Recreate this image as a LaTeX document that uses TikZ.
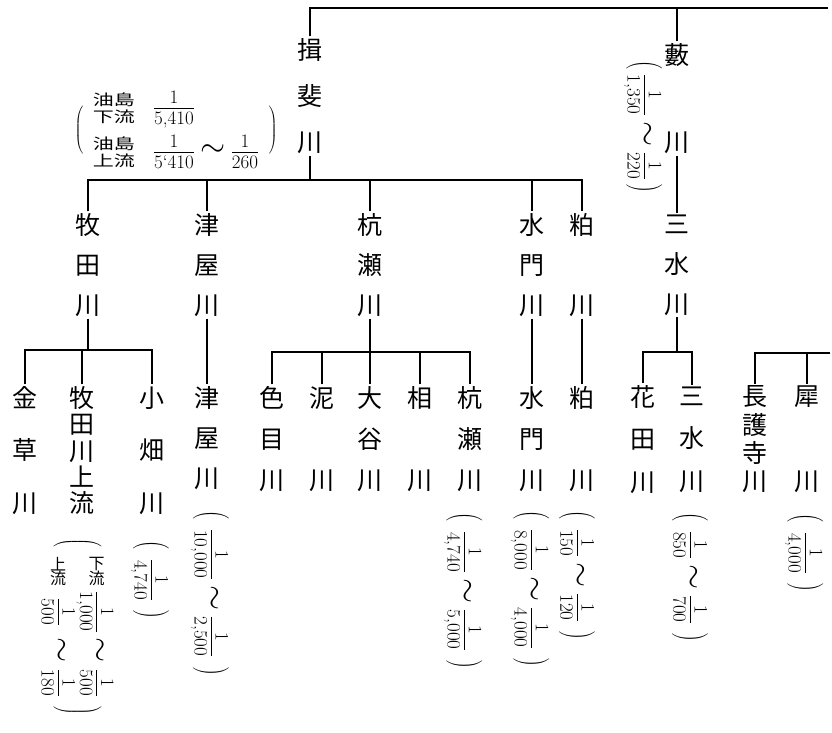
\RequirePackage{fix-cm}
\documentclass[tikz,border=0pt]{standalone}
\usepackage{fontspec}
\usepackage{graphicx}
\newfontfamily\cjk{Noto Sans CJK JP}
\newcommand\fr[2]{\frac{\mbox{#1}\rule[-4pt]{0pt}{4pt}}{\rule{0pt}{16pt}\mbox{#2}}}
\newcommand\lp[1]{\left(\vcenter{\hbox{\rule{0pt}{#1}}}\right.}
\newcommand\rp[1]{\left.\vcenter{\hbox{\rule{0pt}{#1}}}\right)}
\newcommand\wv{\mathrel{\scalebox{1.7}{$\sim$}}}
\newcommand\vlab[2]{\vcenter{\hbox{\cjk\fontsize{16}{16}\selectfont\rotatebox{90}{#1}\rotatebox{90}{#2}}}}
\newcommand\hlab[2]{\vcenter{\hbox{\cjk\fontsize{15}{17}\selectfont\scalebox{1.4}[1]{\shortstack{#1\\#2}}}}}
\tikzset{
  col/.style={font={\cjk\fontsize{25}{#1}\selectfont}, align=center, inner sep=1.5pt},
  ann/.style={font={\fontsize{19}{22}\selectfont}, inner sep=0pt},
  vann/.style={ann, rotate=-90, anchor=west},
}
\begin{document}
\begin{tikzpicture}[x=1pt, y=-1pt, line width=1.2pt]
\useasboundingbox (0,0) rectangle (832,732);

% level 1
\node[col=46] (ibi) at (310,96) {揖\\斐\\川};
\node[col=43.5] (yabu) at (677,98.5) {藪\\\mbox{}\\川};
\coordinate (topR) at (828,8);
\draw (ibi.north) |- (topR);
\draw (yabu.north) -- (yabu.north |- topR);

\node[ann, anchor=west] (aibi) at (74,130) {$\lp{52pt}\;\begin{array}{@{}l@{\hspace{18pt}}l@{}}\hlab{油島}{下流} & \fr{1}{5,410}\\[15pt] \hlab{油島}{上流} & \fr{1}{5`410}\wv\fr{1}{260}\end{array}\;\rp{52pt}$};
\node[vann] (ayabu) at (643,60) {$\lp{34pt}\fr{1}{1,350}\wv\fr{1}{220}\rp{34pt}$};

% level 2
\coordinate (bus1) at (310,180);
\node[col=40] (makita) at (88,265) {牧\\田\\川};
\node[col=40] (tsuya) at (207,265) {津\\屋\\川};
\node[col=40] (kuise) at (370,265) {杭\\瀬\\川};
\node[col=40] (suimon) at (532,265) {水\\門\\川};
\node[col=40] (kasu) at (582,265) {粕\\\mbox{}\\川};
\node[col=40] (sansui) at (677,265) {三\\水\\川};
\draw (ibi.south) -- (bus1);
\draw (makita.north) |- (bus1) -| (kasu.north);
\foreach \n in {tsuya,kuise,suimon} \draw (\n.north) -- (\n.north |- bus1);
\draw (yabu.south) -- (sansui.north);

% level 3 : makita
\coordinate (bus2) at (88,350);
\node[col=52.5] (kinsou) at (25,450.5) {金\\草\\川};
\node[col=26.25] (makup) at (82,450.5) {牧\\田\\川\\上\\流};
\node[col=52.5] (obata) at (152,450.5) {小\\畑\\川};
\draw (makita.south) -- (bus2);
\draw (kinsou.north) |- (bus2) -| (obata.north);
\draw (makup.north) -- (makup.north |- bus2);

% tsuya
\node[col=40] (tsuya2) at (207,438) {津\\屋\\川};
\draw (tsuya.south) -- (tsuya2.north);

% kuise
\coordinate (bus3) at (370,352);
\node[col=41] (irome) at (272,439) {色\\目\\川};
\node[col=41] (doro) at (322,439) {泥\\\mbox{}\\川};
\node[col=41] (ootani) at (370,439) {大\\谷\\川};
\node[col=41] (ai) at (420,439) {相\\\mbox{}\\川};
\node[col=41] (kuise2) at (470,439) {杭\\瀬\\川};
\draw (kuise.south) -- (bus3);
\draw (irome.north) |- (bus3) -| (kuise2.north);
\foreach \n in {doro,ootani,ai} \draw (\n.north) -- (\n.north |- bus3);

% suimon, kasu
\node[col=41] (suimon2) at (532,439) {水\\門\\川};
\node[col=41] (kasu2) at (582,439) {粕\\\mbox{}\\川};
\draw (suimon.south) -- (suimon2.north);
\draw (kasu.south) -- (kasu2.north);

% sansui
\coordinate (bus4) at (677,352);
\node[col=42.5] (hanada) at (643,439.5) {花\\田\\川};
\node[col=42.5] (sansui2) at (692,439.5) {三\\水\\川};
\draw (sansui.south) -- (bus4);
\draw (hanada.north) |- (bus4) -| (sansui2.north);

% chogoji, sai
\coordinate (bus5) at (830,353);
\node[col=28.3] (chogo) at (755,439.5) {長\\護\\寺\\川};
\node[col=42.5] (sai) at (807,439.5) {犀\\\mbox{}\\川};
\draw (bus5) -| (chogo.north);
\draw (sai.north) -- (sai.north |- bus5);

% annotations level 3
\node[vann] (aobata) at (150,540) {$\lp{34pt}\;\fr{1}{4,740}\;\rp{34pt}$};
\node[vann] (amakup) at (77.5,538) {$\lp{48pt}\;\begin{array}{@{}c@{\;}c@{}c@{}c@{}}\vlab{下}{流} & \fr{1}{1,000} & {}\wv{} & \fr{1}{500}\\[10pt] \vlab{上}{流} & \fr{1}{500} & {}\wv{} & \fr{1}{180}\end{array}\;\rp{48pt}$};
\node[vann] (atsuya) at (210,510) {$\lp{34pt}\;\fr{1}{10,000}\wv\fr{1}{2,500}\;\rp{34pt}$};
\node[vann] (akuise) at (463,512) {$\lp{34pt}\;\fr{1}{4,740}\wv\fr{1}{5,000}\;\rp{34pt}$};
\node[vann] (asuimon) at (530,510) {$\lp{34pt}\;\fr{1}{8,000}\wv\fr{1}{4,000}\;\rp{34pt}$};
\node[vann] (akasu) at (577,510) {$\lp{34pt}\;\fr{1}{150}\wv\fr{1}{120}\;\rp{34pt}$};
\node[vann] (asansui) at (690,512) {$\lp{34pt}\;\fr{1}{850}\wv\fr{1}{700}\;\rp{34pt}$};
\node[vann] (asai) at (804,513) {$\lp{34pt}\;\fr{1}{4,000}\;\rp{34pt}$};
\end{tikzpicture}
\end{document}
